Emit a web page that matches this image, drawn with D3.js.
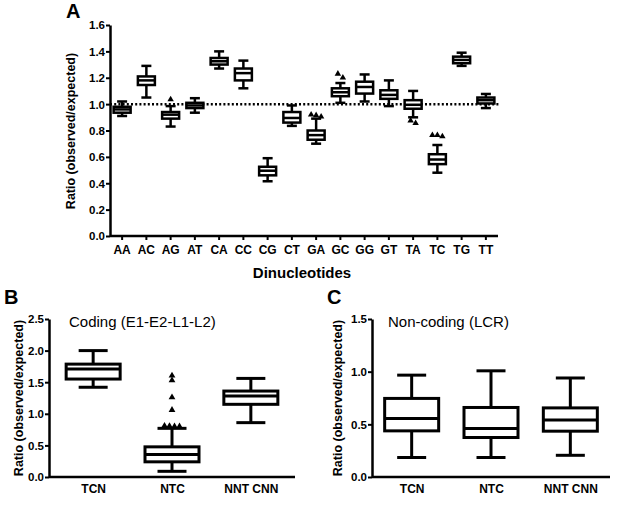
<!DOCTYPE html>
<html><head><meta charset="utf-8">
<script src="https://cdn.jsdelivr.net/npm/d3@7"></script>
<style>
body{margin:0;background:#fff;}
svg{display:block;font-family:Arial,"Liberation Sans",sans-serif;}
</style></head>
<body>
<svg id="chart" width="640" height="509"></svg>
<script>
// ---------- Panel A data ----------
const dinucs = ["AA","AC","AG","AT","CA","CC","CG","CT","GA","GC","GG","GT","TA","TC","TG","TT"];
const aMin = [0.91,1.05,0.83,0.935,1.27,1.12,0.415,0.835,0.70,1.01,1.02,0.985,0.90,0.48,1.29,0.97];
const aQ1  = [0.935,1.145,0.89,0.97,1.30,1.18,0.46,0.86,0.73,1.06,1.08,1.04,0.965,0.545,1.31,1.005];
const aMed = [0.96,1.18,0.92,0.99,1.325,1.235,0.495,0.895,0.765,1.09,1.13,1.07,0.995,0.58,1.335,1.03];
const aQ3  = [0.98,1.21,0.94,1.01,1.35,1.27,0.525,0.94,0.80,1.12,1.17,1.105,1.03,0.62,1.36,1.05];
const aMax = [1.02,1.29,0.985,1.045,1.40,1.33,0.59,0.99,0.89,1.16,1.225,1.18,1.10,0.69,1.39,1.077];
const aOut = [[],[],[1.035],[],[],[],[],[],[0.92,0.905,0.915],[1.20,1.23],[],[],[0.855,0.875],[0.765,0.755,0.765],[],[]];
const aTicks = [0,0.2,0.4,0.6,0.8,1.0,1.2,1.4,1.6];
const aRef = 1.0;

// ---------- Panel B data ----------
const groups = ["TCN","NTC","NNT CNN"];
const bMin = [1.42,0.09,0.86];
const bQ1  = [1.55,0.24,1.15];
const bMed = [1.71,0.356,1.28];
const bQ3  = [1.786,0.477,1.36];
const bMax = [2.0,0.77,1.56];
const bOut = [[],[0.80,0.805,0.81,0.80,1.06,1.26,1.53,1.605],[]];
const bTicks = [0,0.5,1.0,1.5,2.0,2.5];

// ---------- Panel C data ----------
const cMin = [0.185,0.185,0.206];
const cQ1  = [0.438,0.375,0.435];
const cMed = [0.555,0.46,0.54];
const cQ3  = [0.746,0.66,0.656];
const cMax = [0.967,1.008,0.94];
const cTicks = [0,0.5,1.0,1.5];

const svg = d3.select("#chart");
const FONT = 'Arial,"Liberation Sans",sans-serif';

function drawPanel(o){
  const g = svg.append("g");
  const x = o.x, y = o.y;
  const ya = g.append("g").attr("transform",`translate(${o.x0},0)`)
    .call(d3.axisLeft(y).tickValues(o.ticks).tickFormat(d3.format(".1f")).tickSize(4).tickSizeOuter(0));
  ya.select(".domain").attr("stroke","#000").attr("stroke-width",2.5);
  ya.selectAll(".tick line").attr("stroke","#000").attr("stroke-width",2);
  ya.selectAll(".tick text").attr("font-family",FONT).attr("font-weight","bold")
    .attr("font-size",o.tickFont).attr("fill","#000").attr("x",-5).attr("dy","0.34em");
  const xa = g.append("g").attr("transform",`translate(0,${o.y0})`)
    .call(d3.axisBottom(x).tickSize(o.xTick).tickSizeOuter(0));
  xa.select(".domain").attr("stroke","#000").attr("stroke-width",2.5)
    .attr("d",`M${o.x0},0H${o.x1}`);
  xa.selectAll(".tick line").attr("stroke","#000").attr("stroke-width",2);
  xa.selectAll(".tick text").attr("font-family",FONT).attr("font-weight","bold")
    .attr("font-size",o.xFont).attr("fill","#000").attr("y",o.xLabY).attr("dy","0");
  if(o.ref!=null){
    g.append("line").attr("x1",o.x0).attr("x2",o.x1+2)
      .attr("y1",y(o.ref)).attr("y2",y(o.ref))
      .attr("stroke","#000").attr("stroke-width",2.5).attr("stroke-dasharray","2,2.2");
  }
  const bw = o.bw, cw = o.cw, sw = o.sw;
  o.cats.forEach((c,i)=>{
    const cx = x(c) + (x.bandwidth?x.bandwidth()/2:0);
    const bg = g.append("g");
    bg.append("line").attr("x1",cx).attr("x2",cx).attr("y1",y(o.max[i])).attr("y2",y(o.q3[i]))
      .attr("stroke","#000").attr("stroke-width",sw);
    bg.append("line").attr("x1",cx).attr("x2",cx).attr("y1",y(o.q1[i])).attr("y2",y(o.min[i]))
      .attr("stroke","#000").attr("stroke-width",sw);
    [o.max[i],o.min[i]].forEach(v=>{
      bg.append("line").attr("x1",cx-cw/2).attr("x2",cx+cw/2).attr("y1",y(v)).attr("y2",y(v))
        .attr("stroke","#000").attr("stroke-width",sw);
    });
    bg.append("rect").attr("x",cx-bw/2).attr("width",bw)
      .attr("y",y(o.q3[i])).attr("height",y(o.q1[i])-y(o.q3[i]))
      .attr("fill","#fff").attr("stroke","#000").attr("stroke-width",sw);
    bg.append("line").attr("x1",cx-bw/2).attr("x2",cx+bw/2).attr("y1",y(o.med[i])).attr("y2",y(o.med[i]))
      .attr("stroke","#000").attr("stroke-width",sw);
    if(o.out && o.out[i].length){
      const pts = o.out[i].map(v=>({v,py:y(v)})).sort((a,b)=>a.py-b.py);
      const clusters=[]; let cur=[];
      pts.forEach(p=>{
        if(cur.length && p.py-cur[cur.length-1].py>4){clusters.push(cur);cur=[];}
        cur.push(p);
      });
      if(cur.length) clusters.push(cur);
      const tri = d3.symbol().type(d3.symbolTriangle).size(o.triSize);
      clusters.forEach(cl=>{
        const n=cl.length;
        cl.forEach((p,k)=>{
          const dx=(k-(n-1)/2)*o.dodge;
          bg.append("path").attr("d",tri())
            .attr("transform",`translate(${cx+dx},${p.py})`).attr("fill","#000");
        });
      });
    }
  });
  return g;
}

// Panel A
const xA = d3.scaleBand().domain(dinucs).range([110,498]).padding(0);
const yA = d3.scaleLinear().domain([0,1.6]).range([236,25]);
drawPanel({x:xA,y:yA,x0:110,x1:498,y0:236,ticks:aTicks,tickFont:11.5,xTick:4,xFont:12,xLabY:18,
  ref:aRef,cats:dinucs,min:aMin,q1:aQ1,med:aMed,q3:aQ3,max:aMax,out:aOut,bw:17,cw:10,sw:2.5,triSize:18,dodge:5});

// Panel B
const xB = d3.scalePoint().domain(groups).range([49,295]).padding(0.56);
const yB = d3.scaleLinear().domain([0,2.5]).range([477,319]);
drawPanel({x:xB,y:yB,x0:49,x1:295,y0:477,ticks:bTicks,tickFont:11.5,xTick:0,xFont:12,xLabY:16,
  ref:null,cats:groups,min:bMin,q1:bQ1,med:bMed,q3:bQ3,max:bMax,out:bOut,bw:54,cw:29,sw:3,triSize:20,dodge:5});

// Panel C
const xC = d3.scalePoint().domain(groups).range([372,610]).padding(0.5);
const yC = d3.scaleLinear().domain([0,1.5]).range([477,319]);
drawPanel({x:xC,y:yC,x0:372,x1:610,y0:477,ticks:cTicks,tickFont:11.5,xTick:0,xFont:12,xLabY:16,
  ref:null,cats:groups,min:cMin,q1:cQ1,med:cMed,q3:cQ3,max:cMax,out:null,bw:54,cw:29,sw:3,triSize:20,dodge:5});

function txt(s,x,y,size,weight,anchor,rot){
  const t=svg.append("text").attr("x",x).attr("y",y).attr("font-family",FONT)
    .attr("font-size",size).attr("font-weight",weight).attr("text-anchor",anchor||"start").attr("fill","#000").text(s);
  if(rot) t.attr("transform",`rotate(${rot},${x},${y})`);
  return t;
}
txt("A",66,18,20,"bold");
txt("B",4,304,20,"bold");
txt("C",327,304,20,"bold");
txt("Ratio (observed/expected)",75,131,12.5,"bold","middle",-90);
txt("Ratio (observed/expected)",23,398,12.5,"bold","middle",-90);
txt("Ratio (observed/expected)",342,398,12.5,"bold","middle",-90);
txt("Dinucleotides",302,278,15,"bold","middle");
txt("Coding (E1-E2-L1-L2)",69,327,15,"normal");
txt("Non-coding (LCR)",388,327,15,"normal");
</script>
</body></html>
